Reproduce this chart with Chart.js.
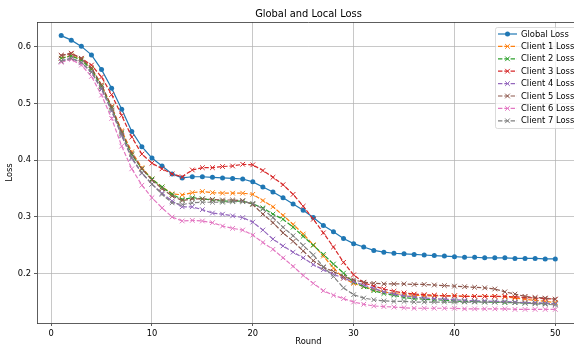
<!DOCTYPE html>
<html>
<head>
<meta charset="utf-8">
<script src="https://cdn.jsdelivr.net/npm/chart.js@4.4.1/dist/chart.umd.min.js"></script>
<style>
	html, body { margin: 0; padding: 0; background: #fff; overflow: hidden; }
	#wrap { width: 574px; height: 347px; overflow: hidden; }
	#lossChart { display: block; }
</style>
</head>
<body>
<!-- the canvas is a bit wider than the window: the reference picture is cropped at the right -->
<div id="wrap"><canvas id="lossChart" width="585" height="347"></canvas></div>
<script>
var rounds = [1,2,3,4,5,6,7,8,9,10,11,12,13,14,15,16,17,18,19,20,21,22,23,24,25,26,27,28,29,30,31,32,33,34,35,36,37,38,39,40,41,42,43,44,45,46,47,48,49,50];

var globalLoss = [0.620,0.612,0.601,0.586,0.560,0.527,0.490,0.451,0.424,0.404,0.390,0.376,0.369,0.371,0.371,0.370,0.369,0.368,0.367,0.362,0.353,0.344,0.334,0.323,0.312,0.299,0.285,0.274,0.262,0.253,0.247,0.241,0.238,0.236,0.235,0.234,0.233,0.232,0.231,0.230,0.229,0.229,0.228,0.228,0.228,0.227,0.227,0.227,0.226,0.226];
var client1Loss = [0.580,0.585,0.578,0.562,0.533,0.495,0.452,0.415,0.387,0.367,0.353,0.341,0.339,0.343,0.345,0.343,0.342,0.342,0.342,0.340,0.329,0.318,0.303,0.287,0.270,0.251,0.231,0.210,0.192,0.183,0.177,0.172,0.168,0.165,0.163,0.162,0.161,0.161,0.161,0.161,0.160,0.160,0.160,0.160,0.159,0.157,0.155,0.153,0.151,0.149];
var client2Loss = [0.580,0.584,0.577,0.560,0.530,0.492,0.448,0.410,0.385,0.367,0.353,0.340,0.331,0.334,0.332,0.330,0.328,0.328,0.328,0.323,0.316,0.305,0.296,0.282,0.266,0.250,0.234,0.217,0.201,0.185,0.177,0.170,0.165,0.162,0.158,0.156,0.155,0.154,0.153,0.152,0.151,0.151,0.150,0.150,0.149,0.149,0.148,0.148,0.147,0.147];
var client3Loss = [0.585,0.589,0.580,0.568,0.547,0.516,0.479,0.441,0.411,0.395,0.385,0.376,0.371,0.383,0.387,0.387,0.389,0.390,0.393,0.392,0.382,0.370,0.357,0.340,0.319,0.296,0.272,0.247,0.220,0.198,0.184,0.178,0.173,0.169,0.166,0.164,0.163,0.162,0.161,0.161,0.160,0.160,0.160,0.160,0.160,0.159,0.158,0.157,0.156,0.155];
var client4Loss = [0.575,0.580,0.572,0.555,0.525,0.487,0.443,0.403,0.377,0.358,0.342,0.328,0.318,0.318,0.313,0.307,0.305,0.302,0.299,0.291,0.277,0.261,0.249,0.238,0.228,0.216,0.207,0.199,0.192,0.186,0.180,0.174,0.168,0.164,0.161,0.159,0.157,0.156,0.155,0.154,0.153,0.152,0.152,0.151,0.151,0.150,0.149,0.149,0.148,0.147];
var client5Loss = [0.585,0.588,0.580,0.563,0.533,0.494,0.450,0.412,0.385,0.365,0.350,0.337,0.329,0.332,0.332,0.331,0.330,0.330,0.329,0.322,0.305,0.290,0.272,0.257,0.240,0.223,0.211,0.204,0.195,0.189,0.185,0.183,0.182,0.182,0.182,0.181,0.181,0.180,0.179,0.178,0.177,0.176,0.175,0.173,0.168,0.164,0.160,0.158,0.157,0.155];
var client6Loss = [0.573,0.578,0.568,0.548,0.515,0.474,0.425,0.385,0.356,0.334,0.316,0.300,0.293,0.294,0.293,0.290,0.284,0.280,0.277,0.268,0.255,0.243,0.228,0.213,0.197,0.183,0.170,0.162,0.156,0.150,0.146,0.143,0.142,0.141,0.140,0.139,0.139,0.139,0.139,0.139,0.138,0.138,0.138,0.138,0.138,0.137,0.137,0.137,0.137,0.137];
var client7Loss = [0.575,0.580,0.573,0.556,0.527,0.489,0.445,0.405,0.378,0.358,0.340,0.325,0.322,0.325,0.326,0.326,0.326,0.327,0.327,0.324,0.314,0.299,0.282,0.267,0.250,0.233,0.212,0.195,0.175,0.163,0.157,0.154,0.152,0.151,0.151,0.150,0.150,0.150,0.150,0.150,0.150,0.150,0.150,0.150,0.150,0.149,0.148,0.147,0.146,0.145];

var seriesLabels = ['Global Loss','Client 1 Loss','Client 2 Loss','Client 3 Loss','Client 4 Loss','Client 5 Loss','Client 6 Loss','Client 7 Loss'];
var seriesValues = [globalLoss, client1Loss, client2Loss, client3Loss, client4Loss, client5Loss, client6Loss, client7Loss];
var xTickValues = [0, 10, 20, 30, 40, 50];
var yTickValues = [0.2, 0.3, 0.4, 0.5, 0.6];
var chartTitle = 'Global and Local Loss';

var colors = ['#1f77b4','#ff7f0e','#2ca02c','#d62728','#9467bd','#8c564b','#e377c2','#7f7f7f'];
var FONT = 'DejaVu Sans';

var buildDatasets = function() {
	var sets = [];
	for (var i = 0; i < seriesValues.length; i++) {
		var pts = [];
		for (var j = 0; j < rounds.length; j++) {
			pts.push({x: rounds[j], y: seriesValues[i][j]});
		}
		var isGlobal = (i === 0);
		sets.push({
			label: seriesLabels[i],
			data: pts,
			borderColor: colors[i],
			backgroundColor: colors[i],
			borderWidth: 1.2,
			borderDash: isGlobal ? [] : [4.4, 1.9],
			pointStyle: isGlobal ? 'circle' : 'crossRot',
			pointRadius: isGlobal ? 2.5 : 3.3,
			pointBorderWidth: isGlobal ? 0 : 1,
			pointBackgroundColor: colors[i],
			pointBorderColor: colors[i],
			tension: 0,
			fill: false,
			order: seriesValues.length - i // later series drawn on top, like matplotlib
		});
	}
	return sets;
};

// title over the axes, top spine and a matplotlib-like legend box
var frameAndLegend = {
	id: 'frameAndLegend',
	afterDraw: function(chart) {
		var c = chart.ctx;
		var a = chart.chartArea;
		c.save();
		c.fillStyle = '#000';
		c.font = '9.9px "' + FONT + '"';
		c.textAlign = 'center';
		c.textBaseline = 'middle';
		c.fillText(chartTitle, (a.left + a.right) / 2, 14);

		c.strokeStyle = '#333';
		c.lineWidth = 0.8;
		c.beginPath();
		c.moveTo(a.left, a.top + 0.5);
		c.lineTo(a.right, a.top + 0.5);
		c.stroke();

		var bx = 495, by = 27, bw = 92, bh = 101;
		c.fillStyle = 'rgba(255,255,255,0.8)';
		c.strokeStyle = '#cccccc';
		c.lineWidth = 0.7;
		c.beginPath();
		c.roundRect(bx + 0.5, by + 0.5, bw, bh, 2);
		c.fill();
		c.stroke();

		c.font = '8.4px "' + FONT + '"';
		c.textBaseline = 'middle';
		c.textAlign = 'left';
		var sets = chart.data.datasets;
		for (var i = 0; i < sets.length; i++) {
			var ds = sets[i];
			var y = 34 + i * 12.4;
			c.strokeStyle = ds.borderColor;
			c.lineWidth = ds.borderWidth;
			c.setLineDash(ds.borderDash);
			c.beginPath();
			c.moveTo(498, y);
			c.lineTo(517, y);
			c.stroke();
			c.setLineDash([]);
			c.fillStyle = ds.pointBackgroundColor;
			c.strokeStyle = ds.pointBorderColor;
			c.lineWidth = ds.pointBorderWidth;
			Chart.helpers.drawPoint(c, {pointStyle: ds.pointStyle, radius: ds.pointRadius, rotation: 0, borderWidth: ds.pointBorderWidth}, 507.5, y);
			c.fillStyle = '#000';
			c.fillText(ds.label, 521, y + 0.5);
		}
		c.restore();
	}
};

window.addEventListener('load', function() {
	var ctx = document.getElementById('lossChart');
	new Chart(ctx, {
		type: 'line',
		data: { datasets: buildDatasets() },
		options: {
			responsive: false,
			animation: false,
			devicePixelRatio: 1,
			layout: { padding: { top: 22, left: 0, bottom: 0, right: 0 } },
			plugins: {
				legend: { display: false },
				tooltip: { enabled: false },
				title: { display: false }
			},
			scales: {
				x: {
					type: 'linear',
					min: -1.4,
					max: 52.45,
					afterBuildTicks: function(scale) {
						scale.ticks = xTickValues.map(function(v) { return {value: v}; });
					},
					afterFit: function(scale) { scale.height = 24; },
					grid: { color: '#b0b0b0', lineWidth: 0.7, tickColor: '#333', tickLength: 3, tickWidth: 0.8 },
					border: { color: '#333', width: 0.8 },
					ticks: { color: '#000', padding: 3, maxRotation: 0, font: { family: FONT, size: 8.3 } },
					title: { display: true, text: 'Round', color: '#000', padding: 0, font: { family: FONT, size: 8.3 } }
				},
				y: {
					type: 'linear',
					min: 0.113,
					max: 0.644,
					afterBuildTicks: function(scale) {
						scale.ticks = yTickValues.map(function(v) { return {value: v}; });
					},
					afterFit: function(scale) { scale.width = 37; },
					grid: { color: '#b0b0b0', lineWidth: 0.7, tickColor: '#333', tickLength: 3, tickWidth: 0.8 },
					border: { color: '#333', width: 0.8 },
					ticks: {
						color: '#000', padding: 3, font: { family: FONT, size: 8.3 },
						callback: function(v) { return v.toFixed(1); }
					},
					title: { display: true, text: 'Loss', color: '#000', padding: { top: 5, bottom: 0 }, font: { family: FONT, size: 8.3 } }
				}
			}
		},
		plugins: [frameAndLegend]
	});
});
</script>
</body>
</html>
